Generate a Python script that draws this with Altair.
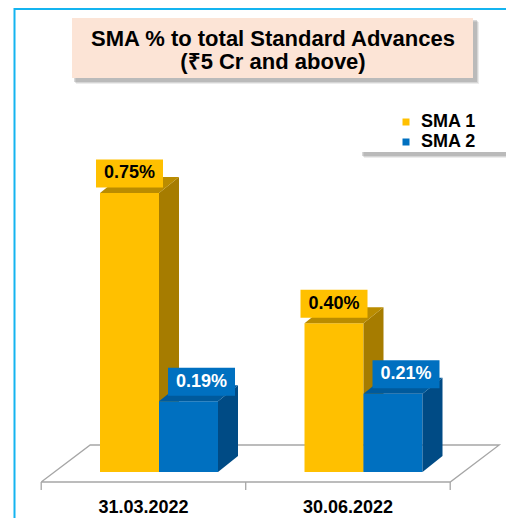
import altair as alt
import pandas as pd

# ---------------- data ----------------
categories = ["31.03.2022", "30.06.2022"]
series_names = ["SMA 1", "SMA 2"]
sma1_values = [0.75, 0.40]
sma2_values = [0.19, 0.21]
title_lines = ["SMA %  to total Standard Advances", "(₹5 Cr and above)"]

# ---------------- style ----------------
FONT = "Liberation Sans"
front_colors = ["#FFC000", "#0070C0"]
side_colors = ["#A67C00", "#004B85"]
top_colors = ["#BA8C00", "#005A9C"]
label_text_colors = ["#000000", "#FFFFFF"]

W, H = 498, 510
BW = 0.2885      # bar width (category units)
DX = 0.0978      # 3D depth (x, category units)
DY = 0.043       # 3D depth (y, value units)
FL = -0.576      # floor front-left edge
FDX = 0.2396     # floor depth x
FY0 = -0.0269    # floor front y
FY1 = 0.0726     # floor back y
XDOM = [-0.7384, 1.6968]
YDOM = [-0.1237, 1.2473]

xs = alt.Scale(domain=XDOM, nice=False, zero=False)
ys = alt.Scale(domain=YDOM, nice=False, zero=False)
fill_scale = alt.Scale(domain=series_names, range=front_colors)

values = [sma1_values, sma2_values]

front_rows, side_rows, top_rows, label_rows = [], [], [], []
for i, cat in enumerate(categories):
    for j, ser in enumerate(series_names):
        v = values[j][i]
        x0 = i - BW + j * BW
        x1 = x0 + BW
        face = f"{i}-{j}"
        front_rows.append(dict(series=ser, sj=j, cat=cat, x0=x0, x1=x1, v=v, base=0.0))
        side_rows.append(dict(series=ser, sj=j, face=face, x=x1, y=v, y2=0.0))
        side_rows.append(dict(series=ser, sj=j, face=face, x=x1 + DX, y=v + DY, y2=DY))
        top_rows.append(dict(series=ser, sj=j, face=face, y=v, x=x0, x2=x1))
        top_rows.append(dict(series=ser, sj=j, face=face, y=v + DY, x=x0 + DX, x2=x1 + DX))
        xc = (x0 + x1) / 2 + (0.0636 if j == 1 else 0.0)
        yb = v + 0.0148
        label_rows.append(dict(series=ser, sj=j, xa=xc - 0.1638, xb=xc + 0.1638,
                               ya=yb, yb=yb + 0.0753, xc=xc, yc=yb + 0.0376,
                               label=f"{v:.2f}%", tcolor=label_text_colors[j]))

front_df = pd.DataFrame(front_rows)
side_df = pd.DataFrame(side_rows)
top_df = pd.DataFrame(top_rows)
label_df = pd.DataFrame(label_rows)

n = len(categories)
FR = FL + n
floor_df = pd.DataFrame({
    "x": [FL, FR, FR + FDX, FL + FDX, FL],
    "y": [FY0, FY0, FY1, FY1, FY0],
    "k": [0, 1, 2, 3, 4],
})
tick_df = pd.DataFrame({"x": [FL + k for k in range(n + 1)], "y": FY0, "y2": FY0 - 0.0215})
cat_df = pd.DataFrame({"cat": categories, "x": [FL + i + 0.5 for i in range(n)], "y": -0.098})

one = pd.DataFrame({"a": [0]})

layers = []

# frame
layers.append(alt.Chart(one).mark_rule(color="#14B4F0", strokeWidth=2).encode(
    x=alt.value(6.5), y=alt.value(0), y2=alt.value(H)))
layers.append(alt.Chart(one).mark_rule(color="#14B4F0", strokeWidth=2).encode(
    x=alt.value(6.5), x2=alt.value(W), y=alt.value(1)))

# title box with shadow
for off, op in [(6, 0.15), (5, 0.2), (4, 0.3)]:
    layers.append(alt.Chart(one).mark_rect(color="#7F7F7F", opacity=op).encode(
        x=alt.value(64 + off - 2), x2=alt.value(465 + off), y=alt.value(10 + off - 2), y2=alt.value(70 + off)))
layers.append(alt.Chart(one).mark_rect(color="#FCE4D6").encode(
    x=alt.value(64), x2=alt.value(465), y=alt.value(10), y2=alt.value(70)))
layers.append(alt.Chart(one).mark_text(font=FONT, fontSize=22, fontWeight="bold", color="#000000",
                                       align="center", baseline="middle", lineBreak="\n", lineHeight=23).encode(
    x=alt.value(265), y=alt.value(31), text=alt.value("\n".join(title_lines))))

# legend box with shadow
for off, op in [(6, 0.15), (5, 0.2), (4, 0.3)]:
    layers.append(alt.Chart(one).mark_rect(color="#7F7F7F", opacity=op).encode(
        x=alt.value(352 + off - 2), x2=alt.value(W), y=alt.value(102 + off - 2), y2=alt.value(144 + off)))
layers.append(alt.Chart(one).mark_rect(color="#FFFFFF").encode(
    x=alt.value(352), x2=alt.value(W), y=alt.value(102), y2=alt.value(144)))

# floor
layers.append(alt.Chart(floor_df).mark_line(color="#A6A6A6", strokeWidth=1.3).encode(
    x=alt.X("x:Q", scale=xs, axis=None), y=alt.Y("y:Q", scale=ys, axis=None), order="k:Q"))
layers.append(alt.Chart(tick_df).mark_rule(color="#A6A6A6", strokeWidth=1.3).encode(
    x=alt.X("x:Q", scale=xs, axis=None), y=alt.Y("y:Q", scale=ys, axis=None), y2="y2:Q"))

# bars
for j, ser in enumerate(series_names):
    fdf = front_df[front_df.sj == j]
    sdf = side_df[side_df.sj == j]
    tdf = top_df[top_df.sj == j]
    layers.append(alt.Chart(fdf).mark_rect().encode(
        x=alt.X("x0:Q", scale=xs, axis=None), x2="x1:Q",
        y=alt.Y("v:Q", scale=ys, axis=None), y2="base:Q",
        fill=alt.Fill("series:N", scale=fill_scale, legend=alt.Legend(
            orient="none", legendX=389, legendY=105, title=None, symbolType="square",
            symbolSize=49, symbolStrokeWidth=0, labelFont=FONT, labelFontSize=18,
            labelFontWeight="bold", labelColor="#000000", labelOffset=6, rowPadding=2,
            padding=0, labelLimit=0))))
    layers.append(alt.Chart(sdf).mark_area(orient="vertical", color=side_colors[j]).encode(
        x=alt.X("x:Q", scale=xs, axis=None), y=alt.Y("y:Q", scale=ys, axis=None), y2="y2:Q",
        detail="face:N"))
    layers.append(alt.Chart(tdf).mark_area(orient="horizontal", color=top_colors[j]).encode(
        y=alt.Y("y:Q", scale=ys, axis=None), x=alt.X("x:Q", scale=xs, axis=None), x2="x2:Q",
        detail="face:N"))

# value labels
layers.append(alt.Chart(label_df).mark_rect().encode(
    x=alt.X("xa:Q", scale=xs, axis=None), x2="xb:Q",
    y=alt.Y("ya:Q", scale=ys, axis=None), y2="yb:Q",
    fill=alt.Fill("series:N", scale=fill_scale, legend=None)))
layers.append(alt.Chart(label_df).mark_text(font=FONT, fontSize=18, fontWeight="bold",
                                            align="center", baseline="middle").encode(
    x=alt.X("xc:Q", scale=xs, axis=None), y=alt.Y("yc:Q", scale=ys, axis=None),
    text="label:N", color=alt.Color("tcolor:N", scale=None)))

# category labels
layers.append(alt.Chart(cat_df).mark_text(font=FONT, fontSize=18, fontWeight="bold", color="#000000",
                                          align="center", baseline="middle").encode(
    x=alt.X("x:Q", scale=xs, axis=None), y=alt.Y("y:Q", scale=ys, axis=None), text="cat:N"))

chart = alt.layer(*layers).properties(
    width=W, height=H, padding=0,
    autosize=alt.AutoSizeParams(type="none"),
    background="#FFFFFF",
).configure_view(strokeWidth=0)

chart.save("out.html", embed_options={"renderer": "svg", "actions": False})
